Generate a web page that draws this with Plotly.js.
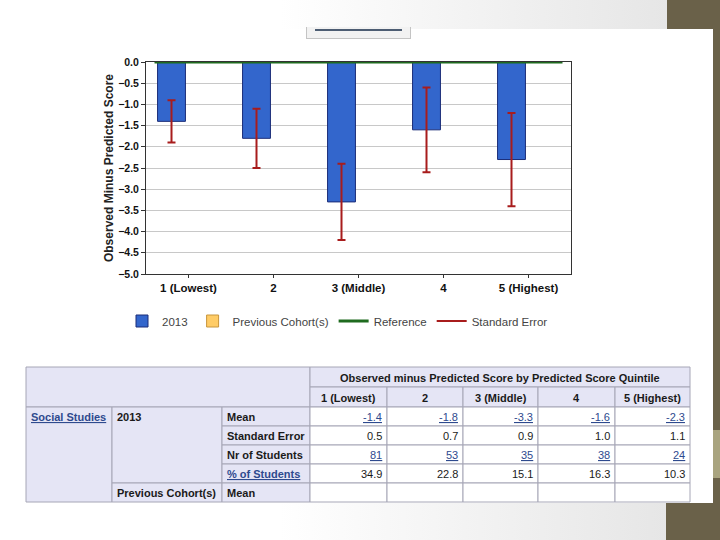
<!DOCTYPE html>
<html>
<head>
<meta charset="utf-8">
<script src="https://cdn.plot.ly/plotly-3.0.1.min.js"></script>
<style>
  html, body { margin: 0; padding: 0; }
  body { width: 720px; height: 540px; position: relative; overflow: hidden; background: #ffffff; font-family: "Liberation Sans", Arial, sans-serif; }
  .deco { position: absolute; }
  #chart { position: absolute; left: 0; top: 0; width: 720px; height: 540px; }
</style>
</head>
<body>
<div class="deco" style="left:0;top:0;width:667px;height:29px;background:linear-gradient(to right,#ffffff 0%,#ffffff 42%,#e6e6e6 100%);"></div>
<div class="deco" style="left:667px;top:0;width:53px;height:29px;background:#6a6149;"></div>
<div class="deco" style="left:713px;top:29px;width:7px;height:474px;background:#6a6149;"></div>
<div class="deco" style="left:713px;top:430px;width:7px;height:48px;background:#a9a47f;"></div>
<div class="deco" style="left:0;top:503px;width:666px;height:37px;background:linear-gradient(to right,#ffffff 0%,#ffffff 42%,#e6e6e6 100%);"></div>
<div class="deco" style="left:666px;top:503px;width:54px;height:37px;background:#6a6149;"></div>
<div class="deco" style="left:306px;top:27px;width:103px;height:11px;background:#f2f2f2;border:1px solid #c4c4c4;border-top:none;"></div>
<div class="deco" style="left:315px;top:29px;width:87px;height:2px;background:#4d5d73;"></div>
<div id="chart"></div>
<script>
// ---------- data ----------
const quintiles = ['1 (Lowest)', '2', '3 (Middle)', '4', '5 (Highest)'];
const mean2013 = [-1.4, -1.8, -3.3, -1.6, -2.3];
const stdError2013 = [0.5, 0.7, 0.9, 1.0, 1.1];
const meanPrevious = [null, null, null, null, null];
const referenceValue = [0];
const nrStudents = [81, 53, 35, 38, 24];
const pctStudents = [34.9, 22.8, 15.1, 16.3, 10.3];
const yTickValues = [0, -0.5, -1, -1.5, -2, -2.5, -3, -3.5, -4, -4.5, -5];
const tableTitle = 'Observed minus Predicted Score by Predicted Score Quintile';
const subjectLabel = 'Social Studies';
const cohortLabels = ['2013', 'Previous Cohort(s)'];
const rowLabels = ['Mean', 'Standard Error', 'Nr of Students', '% of Students', 'Mean'];

// ---------- page geometry (pixels) ----------
const W = 720, H = 540;
const px = v => v / W;
const py = v => 1 - v / H;
const FONT = '"Liberation Sans", Arial, sans-serif';

const traces = [
  {
    type: 'bar', name: '2013', x: quintiles, y: mean2013,
    marker: { color: '#3366cc', line: { color: '#1b2d78', width: 1 } },
    error_y: { type: 'data', array: stdError2013, visible: true, color: '#a81c1c', thickness: 2, width: 4 },
    legendrank: 1, hoverinfo: 'skip'
  },
  {
    type: 'bar', name: 'Previous Cohort(s)', x: quintiles, y: meanPrevious,
    marker: { color: '#ffcc66', line: { color: '#c8963c', width: 1 } },
    legendrank: 2, hoverinfo: 'skip'
  },
  {
    type: 'scatter', mode: 'lines', name: 'Standard Error', x: [null], y: [null],
    line: { color: '#a81c1c', width: 2 }, legendrank: 4, hoverinfo: 'skip'
  }
];

const shapes = [];
const annotations = [];

// reference line
shapes.push({
  type: 'line', xref: 'x domain', yref: 'y', x0: 0.02, x1: 0.98,
  y0: referenceValue[0], y1: referenceValue[0],
  line: { color: '#1f6b1f', width: 3 },
  showlegend: true, name: 'Reference', legendrank: 3
});

// ---------- table ----------
const colX = [26, 112, 222, 310, 387, 463, 538, 615, 690];
const rowY = [367, 387, 407, 426, 445, 464, 483, 502];
const LAV = '#e5e5f5', BORDER = '#a6a6b6';
const LINK = '#2e4a8e', TXT = '#1a1a1a';

function cell(c0, c1, r0, r1, fill) {
  shapes.push({
    type: 'rect', xref: 'paper', yref: 'paper',
    x0: px(colX[c0]), x1: px(colX[c1]), y0: py(rowY[r0]), y1: py(rowY[r1]),
    fillcolor: fill, line: { color: BORDER, width: 1 }, layer: 'above'
  });
}
function label(text, c0, c1, r0, align, opts) {
  opts = opts || {};
  let x, xanchor;
  if (align === 'left') { x = colX[c0] + 3; xanchor = 'left'; }
  else if (align === 'right') { x = colX[c1] - 3; xanchor = 'right'; }
  else { x = (colX[c0] + colX[c1]) / 2; xanchor = 'center'; }
  const yc = opts.yc !== undefined ? opts.yc : (rowY[r0] + rowY[r0 + 1]) / 2 + 0.5;
  annotations.push({
    xref: 'paper', yref: 'paper', x: px(x), y: py(yc), xanchor: xanchor, yanchor: 'middle',
    text: text, showarrow: false,
    font: { family: FONT, size: opts.size || 11, color: opts.color || TXT, weight: opts.bold ? 'bold' : 'normal' }
  });
}

// header blocks
cell(0, 3, 0, 2, LAV);
cell(3, 8, 0, 1, LAV);
label(tableTitle, 3, 8, 0, 'center', { bold: true });
quintiles.forEach((q, i) => {
  cell(3 + i, 4 + i, 1, 2, LAV);
  label(q, 3 + i, 4 + i, 1, 'center', { bold: true });
});
// subject column
cell(0, 1, 2, 7, LAV);
label('<u>' + subjectLabel + '</u>', 0, 1, 2, 'left', { bold: true, color: LINK });
// cohort column
cell(1, 2, 2, 6, LAV);
label(cohortLabels[0], 1, 2, 2, 'left', { bold: true });
cell(1, 2, 6, 7, LAV);
label(cohortLabels[1], 1, 2, 6, 'left', { bold: true });
// row labels
rowLabels.forEach((t, r) => {
  cell(2, 3, 2 + r, 3 + r, LAV);
  const isLink = (r === 3);
  label(isLink ? '<u>' + t + '</u>' : t, 2, 3, 2 + r, 'left', { bold: true, color: isLink ? LINK : TXT });
});
// data cells
const rowsData = [
  { vals: mean2013.map(v => v.toFixed(1)), link: true },
  { vals: stdError2013.map(v => v.toFixed(1)), link: false },
  { vals: nrStudents.map(v => String(v)), link: true },
  { vals: pctStudents.map(v => v.toFixed(1)), link: false },
  { vals: meanPrevious.map(v => v === null ? '' : v.toFixed(1)), link: true }
];
rowsData.forEach((row, r) => {
  row.vals.forEach((v, i) => {
    cell(3 + i, 4 + i, 2 + r, 3 + r, '#ffffff');
    if (v !== '') {
      label(row.link ? '<u>' + v + '</u>' : v, 3 + i, 4 + i, 2 + r, 'right',
        { color: row.link ? LINK : TXT });
    }
  });
});

const layout = {
  width: W, height: H,
  margin: { l: 0, r: 0, t: 0, b: 0 },
  paper_bgcolor: 'rgba(0,0,0,0)',
  plot_bgcolor: '#ffffff',
  font: { family: FONT, size: 11, color: '#222' },
  barmode: 'group', bargap: 0.2, bargroupgap: 0.18,
  showlegend: true,
  legend: {
    orientation: 'h', x: px(122), y: py(321), xanchor: 'left', yanchor: 'middle',
    font: { family: FONT, size: 11.5, color: '#444' }, bgcolor: 'rgba(0,0,0,0)',
    traceorder: 'normal'
  },
  xaxis: {
    domain: [px(146), px(571)],
    type: 'category',
    showline: true, linecolor: '#333', linewidth: 1, mirror: true,
    ticks: 'outside', ticklen: 3, tickcolor: '#333',
    showgrid: false, zeroline: false,
    tickfont: { family: FONT, size: 11.5, color: '#111', weight: 'bold' }
  },
  yaxis: {
    domain: [py(274), py(62)],
    range: [-5, 0], tickvals: yTickValues, tickformat: '.1f',
    showline: true, linecolor: '#333', linewidth: 1, mirror: true,
    ticks: 'outside', ticklen: 4, tickcolor: '#333',
    showgrid: true, gridcolor: '#c8c8c8', gridwidth: 1, zeroline: false,
    tickfont: { family: FONT, size: 10.5, color: '#111', weight: 'bold' },
    title: { text: 'Observed Minus Predicted Score', standoff: 1,
             font: { family: FONT, size: 12, color: '#222', weight: 'bold' } }
  },
  shapes: shapes,
  annotations: annotations
};

Plotly.newPlot('chart', traces, layout, { displayModeBar: false, staticPlot: true });
</script>
</body>
</html>
